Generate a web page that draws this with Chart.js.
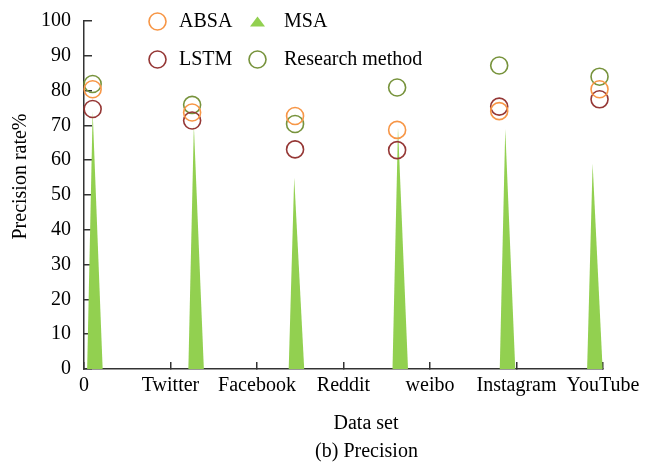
<!DOCTYPE html>
<html>
<head>
<meta charset="utf-8">
<script src="https://cdn.jsdelivr.net/npm/chart.js@4.4.1/dist/chart.umd.min.js"></script>
<style>
  html, body { margin: 0; padding: 0; background: #fff; }
  #wrap { position: relative; width: 658px; height: 472px; }
</style>
</head>
<body>
<div id="wrap"><canvas id="precision"></canvas></div>
<script>
// tick labels along the x axis (axis runs 0..6)
const xLabels = ['0', 'Twitter', 'Facebook', 'Reddit', 'weibo', 'Instagram', 'YouTube'];
// where the marks sit along that axis
const pointPos = [0.1, 1.25, 2.44, 3.62, 4.8, 5.96];
const spikePos = [0.1, 1.27, 2.43, 3.63, 4.87, 5.88];
// precision rate % per data set
const absa = [80.4, 73.7, 72.7, 68.7, 74.1, 80.4];
const msa = [74, 70, 55, 69.5, 69, 59];
const lstm = [74.7, 71.4, 63.1, 62.9, 75.4, 77.5];
const research = [81.9, 75.9, 70.4, 80.9, 87.2, 84.0];

const FONT = '"Liberation Serif", "Times New Roman", serif';
const INK = '#000';
const AXIS = '#333';

function toPoints(xs, ys) {
  return ys.map((v, i) => ({ x: xs[i], y: v }));
}

// MSA is drawn as thin green spikes rising from 0 to the value
const spikes = {
  id: 'spikes',
  beforeDatasetsDraw(chart) {
    const { ctx, chartArea, scales } = chart;
    const base = scales.y.getPixelForValue(0);
    chart.data.datasets.forEach((ds, i) => {
      if (!ds.spike) return;
      const meta = chart.getDatasetMeta(i);
      ctx.save();
      ctx.beginPath();
      ctx.rect(chartArea.left, chartArea.top, chartArea.width, chartArea.height);
      ctx.clip();
      ctx.fillStyle = ds.backgroundColor;
      meta.data.forEach(pt => {
        ctx.beginPath();
        ctx.moveTo(pt.x - 5.5, base);
        ctx.lineTo(pt.x, pt.y);
        ctx.lineTo(pt.x + 10, base);
        ctx.closePath();
        ctx.fill();
      });
      ctx.restore();
    });
  }
};

// two-column legend in the top of the plot
const gridLegend = {
  id: 'gridLegend',
  afterDraw(chart, args, opts) {
    const ctx = chart.ctx;
    ctx.save();
    ctx.font = '20px ' + FONT;
    ctx.textBaseline = 'middle';
    ctx.textAlign = 'left';
    opts.items.forEach(item => {
      const ds = chart.data.datasets[item.dataset];
      if (ds.spike) {
        ctx.fillStyle = ds.backgroundColor;
        ctx.beginPath();
        ctx.moveTo(item.x - 7.5, item.y + 5);
        ctx.lineTo(item.x, item.y - 5);
        ctx.lineTo(item.x + 7.5, item.y + 5);
        ctx.closePath();
        ctx.fill();
      } else {
        ctx.strokeStyle = ds.borderColor;
        ctx.lineWidth = ds.borderWidth;
        ctx.beginPath();
        ctx.arc(item.x, item.y, ds.pointRadius, 0, Math.PI * 2);
        ctx.stroke();
      }
      ctx.fillStyle = INK;
      ctx.fillText(ds.label, item.tx, item.y);
    });
    ctx.restore();
  }
};

// axis titles and the figure caption
const figureText = {
  id: 'figureText',
  afterDraw(chart, args, opts) {
    const ctx = chart.ctx;
    ctx.save();
    ctx.font = '20px ' + FONT;
    ctx.fillStyle = INK;
    ctx.textAlign = 'center';
    ctx.textBaseline = 'middle';
    ctx.fillText(opts.xTitle, 366, 424);
    ctx.fillText(opts.caption, 366.5, 452);
    ctx.translate(21, 176.5);
    ctx.rotate(-Math.PI / 2);
    ctx.fillText(opts.yTitle, 0, 0);
    ctx.restore();
  }
};

const circle = (label, color, xs, ys) => ({
  label: label,
  data: toPoints(xs, ys),
  borderColor: color,
  backgroundColor: 'rgba(0,0,0,0)',
  borderWidth: 1.6,
  pointRadius: 8.5,
  pointHoverRadius: 8.5,
  showLine: false,
  clip: false
});

new Chart(document.getElementById('precision'), {
  type: 'scatter',
  data: {
    datasets: [
      circle('ABSA', '#F79646', pointPos, absa),
      {
        label: 'MSA',
        data: toPoints(spikePos, msa),
        backgroundColor: '#92D050',
        borderColor: '#92D050',
        pointRadius: 0,
        pointHoverRadius: 0,
        showLine: false,
        spike: true
      },
      circle('LSTM', '#953735', pointPos, lstm),
      circle('Research method', '#77933C', pointPos, research)
    ]
  },
  options: {
    responsive: true,
    maintainAspectRatio: false,
    animation: false,
    layout: { autoPadding: false, padding: { top: 21, right: 55, left: 0, bottom: 0 } },
    scales: {
      x: {
        type: 'linear',
        min: 0,
        max: 6,
        afterFit(scale) { scale.height = 103; },
        ticks: {
          stepSize: 1,
          padding: 12,
          color: INK,
          font: { family: FONT, size: 20 },
          callback: v => xLabels[v]
        },
        grid: { drawOnChartArea: false, drawTicks: true, tickLength: -7, color: AXIS, lineWidth: 1.5 },
        border: { color: AXIS, width: 1.5 }
      },
      y: {
        min: 0,
        max: 100,
        afterFit(scale) {
          scale.width = 84;
          scale.paddingTop = 0;
          scale.paddingBottom = 0;
        },
        ticks: {
          stepSize: 10,
          padding: 21,
          color: INK,
          font: { family: FONT, size: 20 }
        },
        grid: { drawOnChartArea: false, drawTicks: true, tickLength: -8, color: AXIS, lineWidth: 1.5 },
        border: { color: AXIS, width: 1.5 }
      }
    },
    plugins: {
      legend: { display: false },
      tooltip: { enabled: false },
      gridLegend: {
        items: [
          { dataset: 0, x: 157.5, y: 21.5, tx: 179 },
          { dataset: 1, x: 257.5, y: 21.5, tx: 284 },
          { dataset: 2, x: 157.5, y: 59.5, tx: 179 },
          { dataset: 3, x: 257.5, y: 59.5, tx: 284 }
        ]
      },
      figureText: {
        xTitle: 'Data set',
        yTitle: 'Precision rate%',
        caption: '(b) Precision'
      }
    }
  },
  plugins: [spikes, gridLegend, figureText]
});
</script>
</body>
</html>
